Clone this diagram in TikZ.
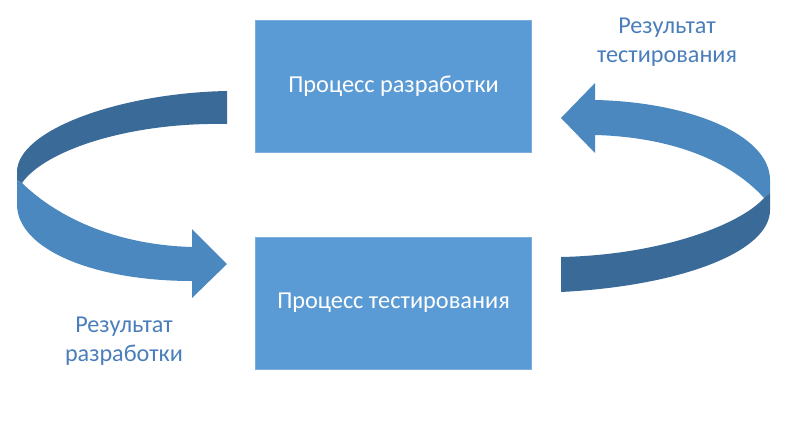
\documentclass[tikz,border=0pt]{standalone}
\usepackage{fontspec}
\setmainfont{Carlito}
\usetikzlibrary{positioning}
\definecolor{BoxBlue}{RGB}{91,155,213}
\definecolor{BandDark}{RGB}{58,106,152}
\definecolor{BandLight}{RGB}{74,136,191}
\definecolor{LabelBlue}{RGB}{74,126,187}

\begin{document}
\begin{tikzpicture}[x=0.025cm, y=-0.025cm, every node/.style={align=center}]
\tikzset{
  procbox/.style={fill=BoxBlue, draw=BoxBlue!80!white, text=white, minimum width=6.9cm, minimum height=3.3cm, font=\fontsize{17.3}{20}\selectfont},
  reslabel/.style={text=LabelBlue, font=\fontsize{17.2}{20.5}\selectfont},
  backband/.style={fill=BandDark},
  frontband/.style={fill=BandLight}
}
  \useasboundingbox (0,0) rectangle (800,421);
  \node[procbox] (dev) at (393.5,86.5) {Процесс разработки};
  \node[procbox] (test) at (393.5,303) {Процесс тестирования};
  \node[reslabel] (devres) at (124,341) {Результат\\разработки};
  \node[reslabel] (testres) at (667,42) {Результат\\тестирования};
  % left band: development -> testing
  \fill[backband] (227,91) .. controls (120,93) and (17,130) .. (17,172)
    -- (17,180) -- (22,183) .. controls (45,150) and (130,122) .. (227,124) -- cycle;
  \fill[frontband] (17,180) -- (22,183) .. controls (60,220) and (120,245) .. (192,247)
    -- (192,229) -- (227,264) -- (192,298) -- (192,281)
    .. controls (95,281) and (18,250) .. (17,205) -- cycle;
  % right band: testing -> development
  \fill[frontband] (595,135) -- (595,153) -- (561,118) -- (595,83) -- (595,100)
    .. controls (690,102) and (770,135) .. (770,180)
    -- (770,193) -- (764,198) .. controls (730,160) and (670,137) .. (595,135) -- cycle;
  \fill[backband] (770,193) -- (770,210) .. controls (770,252) and (680,286) .. (561,292)
    -- (561,257) .. controls (660,255) and (740,225) .. (764,198) -- cycle;
\end{tikzpicture}
\end{document}
